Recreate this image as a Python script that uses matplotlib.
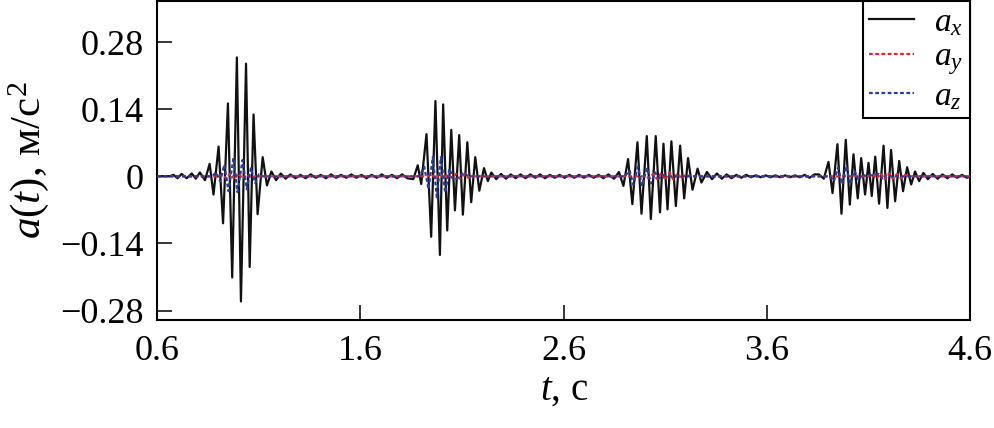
"""Acceleration components a_x, a_y, a_z over time: four wave bursts."""

import matplotlib
matplotlib.use("Agg")
import matplotlib.pyplot as plt

plt.rcParams["font.family"] = ["Liberation Serif", "DejaVu Serif"]
plt.rcParams["mathtext.fontset"] = "custom"
plt.rcParams["mathtext.rm"] = "Liberation Serif"
plt.rcParams["mathtext.it"] = "Liberation Serif:italic"

# a_x: extrema, burst by burst (t in s, a in m/s^2)
ax_lead_t = [0.60, 0.66, 0.68, 0.70, 0.72, 0.745, 0.77, 0.79, 0.81, 0.835]
ax_lead_v = [0.0, 0.0, 0.003, -0.004, 0.005, -0.004, 0.006, -0.005, 0.008, -0.008]

ax_b1_t = [0.858, 0.877, 0.902, 0.924, 0.948, 0.969, 0.992, 1.012, 1.037,
           1.055, 1.074, 1.094, 1.119, 1.140, 1.162, 1.185, 1.208, 1.232]
ax_b1_v = [0.026, -0.038, 0.062, -0.098, 0.152, -0.211, 0.248, -0.261, 0.235,
           -0.189, 0.129, -0.079, 0.040, -0.019, 0.010, -0.008, 0.006, -0.005]

ax_q1_t = [1.255, 1.28, 1.305, 1.33, 1.355, 1.38, 1.405, 1.43, 1.455, 1.48,
           1.505, 1.53, 1.555, 1.58, 1.605, 1.63, 1.655, 1.68, 1.705, 1.73,
           1.755, 1.78, 1.805, 1.83]
ax_q1_v = [0.004, -0.004, 0.003, -0.004, 0.004, -0.003, 0.003, -0.004, 0.004,
           -0.003, 0.003, -0.003, 0.004, -0.003, 0.003, -0.004, 0.003, -0.003,
           0.004, -0.003, 0.003, -0.004, 0.004, -0.004]

ax_b2_t = [1.860, 1.882, 1.899, 1.925, 1.948, 1.969, 1.991, 2.007, 2.027,
           2.047, 2.065, 2.086, 2.104, 2.126, 2.145, 2.165, 2.185, 2.208,
           2.227, 2.244]
ax_b2_v = [-0.006, 0.023, -0.016, 0.088, -0.126, 0.157, -0.164, 0.150, -0.113,
           0.097, -0.071, 0.086, -0.080, 0.071, -0.054, 0.040, -0.030, 0.017,
           -0.010, 0.008]

ax_q2_t = [2.268, 2.292, 2.316, 2.34, 2.364, 2.388, 2.412, 2.436, 2.46, 2.484,
           2.508, 2.532, 2.556, 2.58, 2.604, 2.628, 2.652, 2.676, 2.70, 2.724,
           2.748, 2.772, 2.796, 2.82, 2.848]
ax_q2_v = [-0.006, 0.005, -0.005, 0.004, -0.004, 0.004, -0.004, 0.004, -0.003,
           0.004, -0.004, 0.003, -0.003, 0.003, -0.003, 0.003, -0.003, 0.003,
           -0.003, 0.003, -0.003, 0.003, -0.004, 0.004, -0.005]

ax_b3_t = [2.872, 2.894, 2.917, 2.938, 2.963, 2.983, 3.009, 3.029, 3.053,
           3.074, 3.091, 3.111, 3.130, 3.152, 3.173, 3.193, 3.212, 3.234,
           3.259, 3.278, 3.305]
ax_b3_v = [0.009, -0.020, 0.036, -0.058, 0.071, -0.078, 0.084, -0.089, 0.084,
           -0.075, 0.068, -0.069, 0.073, -0.062, 0.064, -0.046, 0.038, -0.028,
           0.016, -0.013, 0.009]

ax_q3_t = [3.33, 3.354, 3.378, 3.402, 3.426, 3.45, 3.474, 3.498, 3.522, 3.546,
           3.57, 3.594, 3.618, 3.642, 3.666, 3.69, 3.714, 3.738, 3.762, 3.786,
           3.81, 3.834, 3.856]
ax_q3_v = [-0.006, 0.006, -0.005, 0.004, -0.004, 0.003, -0.003, 0.003, -0.002,
           0.002, -0.002, 0.002, -0.002, 0.002, -0.002, 0.002, -0.002, 0.002,
           -0.002, 0.003, -0.003, 0.004, 0.004]

ax_b4_t = [3.880, 3.903, 3.923, 3.947, 3.967, 3.988, 4.008, 4.026, 4.047,
           4.064, 4.083, 4.100, 4.116, 4.133, 4.152, 4.174, 4.193, 4.211,
           4.231, 4.251, 4.270, 4.290, 4.310, 4.329, 4.349, 4.370]
ax_b4_v = [-0.005, 0.030, -0.035, 0.067, -0.078, 0.076, -0.059, 0.046, -0.046,
           0.038, -0.038, 0.028, -0.041, 0.041, -0.057, 0.064, -0.066, 0.055,
           -0.052, 0.032, -0.031, 0.019, -0.017, 0.010, -0.010, 0.007]

ax_tail_t = [4.392, 4.416, 4.44, 4.464, 4.488, 4.512, 4.536, 4.56, 4.584, 4.60]
ax_tail_v = [-0.006, 0.005, -0.005, 0.004, -0.004, 0.004, -0.003, 0.003,
             -0.003, 0.0]

# a_y: small ripple, slightly stronger inside the bursts
ay_t = [0.60, 0.90, 0.92, 0.94, 0.96, 0.98, 1.00, 1.02, 1.04, 1.06, 1.08,
        1.93, 1.95, 1.97, 1.99, 2.01, 2.03, 2.05, 2.07, 2.09, 2.11, 2.13, 2.15,
        3.00, 3.02, 3.04, 3.06, 3.08, 3.10, 3.12, 3.14, 3.16, 3.18, 3.20, 3.22,
        4.10, 4.12, 4.14, 4.16, 4.18, 4.20, 4.22, 4.24, 4.26, 4.28, 4.30, 4.60]
ay_v = [0.0, 0.0, 0.004, -0.005, 0.006, -0.006, 0.006, -0.005, 0.004, -0.003, 0.0,
        0.0, 0.004, -0.005, 0.005, -0.004, 0.004, -0.003, 0.005, -0.005, 0.004, -0.003, 0.0,
        0.0, -0.004, 0.005, -0.006, 0.007, -0.007, 0.008, -0.007, 0.006, -0.005, 0.004, 0.0,
        0.0, 0.004, -0.005, 0.006, -0.006, 0.006, -0.005, 0.005, -0.004, 0.003, 0.0, 0.0]

# a_z: visible only inside the bursts
az_t = [0.60, 0.87, 0.890, 0.910, 0.930, 0.951, 0.975, 0.995, 1.020, 1.041,
        1.061, 1.082, 1.10, 1.12,
        1.89, 1.914, 1.935, 1.956, 1.976, 1.996, 2.017, 2.038, 2.058, 2.078,
        2.107, 2.13,
        2.90, 2.924, 2.943, 2.965, 2.986, 3.009, 3.029, 3.050, 3.07, 3.09, 3.11,
        3.91, 3.93, 3.95, 3.97, 3.99, 4.01, 4.03, 4.05, 4.07, 4.09,
        4.15, 4.17, 4.19, 4.21, 4.60]
az_v = [0.0, 0.0, 0.008, -0.010, 0.024, -0.031, 0.038, -0.033, 0.034, -0.027,
        0.017, -0.014, 0.004, 0.0,
        0.0, 0.020, -0.027, 0.040, -0.044, 0.040, -0.034, 0.016, -0.008, -0.004,
        0.008, 0.0,
        0.0, 0.012, -0.018, 0.020, -0.020, 0.018, -0.015, 0.008, -0.004, 0.003, 0.0,
        0.0, -0.010, 0.018, -0.016, 0.021, -0.016, 0.012, -0.008, 0.004, 0.0,
        0.005, -0.006, 0.004, 0.0, 0.0]

x_ticks = [0.6, 1.6, 2.6, 3.6, 4.6]
y_ticks = [-0.28, -0.14, 0.0, 0.14, 0.28]
y_tick_labels = ["\u22120.28", "\u22120.14", "0", "0.14", "0.28"]

C_X, C_Y, C_Z = "#111111", "#e3262f", "#2a3d9c"


def main():
    ax_t = (ax_lead_t + ax_b1_t + ax_q1_t + ax_b2_t + ax_q2_t + ax_b3_t
            + ax_q3_t + ax_b4_t + ax_tail_t)
    ax_v = (ax_lead_v + ax_b1_v + ax_q1_v + ax_b2_v + ax_q2_v + ax_b3_v
            + ax_q3_v + ax_b4_v + ax_tail_v)

    fig = plt.figure(figsize=(9.95, 4.28), dpi=100)
    ax = fig.add_axes([0.158, 0.252, 0.817, 0.746])

    ax.plot(ax_t, ax_v, color=C_X, lw=1.6, label="$a_x$", zorder=2,
            solid_joinstyle="round")
    ax.plot(ay_t, ay_v, color=C_Y, lw=1.6, ls=(0, (1.7, 1.1)),
            label="$a_y$", zorder=3)
    ax.plot(az_t, az_v, color=C_Z, lw=1.6, ls=(0, (1.7, 1.1)),
            label="$a_z$", zorder=4)

    ax.set_xlim(0.6, 4.6)
    ax.set_ylim(-0.30, 0.366)
    ax.set_xticks(x_ticks)
    ax.set_xticklabels([f"{v:.1f}" for v in x_ticks])
    ax.set_yticks(y_ticks)
    ax.set_yticklabels(y_tick_labels)
    ax.tick_params(direction="in", length=11, width=1.1, labelsize=26)
    ax.tick_params(axis="x", pad=11)
    ax.tick_params(axis="y", pad=10)
    for s in ax.spines.values():
        s.set_linewidth(1.5)

    ax.set_xlabel("$t$, с", fontsize=28, labelpad=2)
    ax.set_ylabel("$a(t)$, м/с$^2$", fontsize=31, labelpad=6)

    leg = ax.legend(loc="upper right", borderaxespad=0, fontsize=24,
                    handlelength=1.35, handletextpad=0.6, labelspacing=0.12,
                    fancybox=False, framealpha=1, edgecolor="black",
                    borderpad=0.2)
    leg.get_frame().set_linewidth(1.5)

    fig.savefig("out.png", dpi=100)


if __name__ == "__main__":
    main()
